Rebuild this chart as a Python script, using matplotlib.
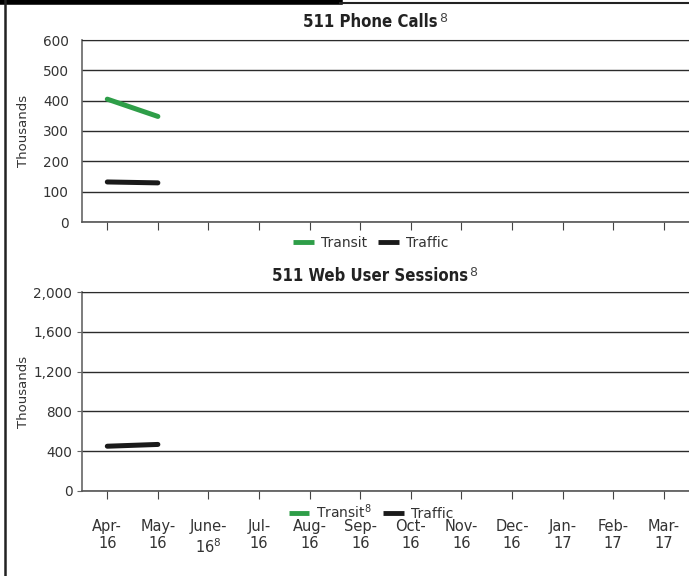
import matplotlib.pyplot as plt
from matplotlib.lines import Line2D

months = ['Apr-\n16', 'May-\n16', 'June-\n16$^{8}$', 'Jul-\n16', 'Aug-\n16', 'Sep-\n16',
          'Oct-\n16', 'Nov-\n16', 'Dec-\n16', 'Jan-\n17', 'Feb-\n17', 'Mar-\n17']

# 511 phone calls (thousands), only Apr/May reported
phone_transit = [405, 348]
phone_traffic = [132, 129]

# 511 web user sessions (thousands)
web_transit = []
web_traffic = [450, 468]

GREEN = '#2e9e48'
BLACK = '#1a1a1a'
GRID = '#2b2b2b'
TXT = '#333333'

fig = plt.figure(figsize=(6.89, 5.76), dpi=100)
W, H = 689.0, 576.0

ax1 = fig.add_axes([82 / W, 1 - 222 / H, 607 / W, 182 / H])
ax2 = fig.add_axes([82 / W, 1 - 491 / H, 607 / W, 199 / H])

x = list(range(len(months)))


def style(ax, ymax, step, fmt, ticklen):
    ax.set_xlim(-0.5, 11.5)
    ax.set_ylim(0, ymax)
    ax.set_yticks(range(0, ymax + 1, step))
    ax.set_yticklabels([fmt.format(v) for v in range(0, ymax + 1, step)])
    ax.set_xticks(x)
    ax.grid(axis='y', color=GRID, linewidth=1.0)
    ax.set_axisbelow(True)
    ax.spines['right'].set_visible(False)
    ax.spines['top'].set_color(GRID)
    ax.spines['left'].set_color('#666666')
    ax.spines['bottom'].set_color('#555555')
    ax.spines['left'].set_linewidth(1.2)
    ax.spines['bottom'].set_linewidth(1.2)
    ax.tick_params(axis='y', length=ticklen, color='#666666', labelsize=9.8,
                   labelcolor=TXT, pad=9.5 if ticklen == 0 else 3.5)
    ax.tick_params(axis='x', length=6, color='#444444', direction='out')
    ax.set_ylabel('Thousands', fontsize=9.5, color=TXT)
    ax.yaxis.set_label_coords(-(82 - 30) / 607, 0.5)


style(ax1, 600, 100, '{:d}', 0)
style(ax2, 2000, 400, '{:,}', 3.5)

ax1.plot(x[:len(phone_transit)], phone_transit, color=GREEN, lw=3.6, solid_capstyle='round', label='Transit')
ax1.plot(x[:len(phone_traffic)], phone_traffic, color=BLACK, lw=3.6, solid_capstyle='round', label='Traffic')
ax1.set_xticklabels([])

ax2.plot(x[:len(web_transit)], web_transit, color=GREEN, lw=3.6, solid_capstyle='round', label='Transit$^{8}$')
ax2.plot(x[:len(web_traffic)], web_traffic, color=BLACK, lw=3.6, solid_capstyle='round', label='Traffic')
ax2.set_xticklabels(months, fontsize=10.5, color=TXT, linespacing=1.2)
ax2.tick_params(axis='x', pad=14)

for ax, yy in [(ax1, -21 / 182), (ax2, -21 / 199)]:
    leg = ax.legend(loc='center', bbox_to_anchor=(0.476, yy), ncol=2, frameon=False,
                    fontsize=10, handlelength=1.5, handletextpad=0.5, columnspacing=0.8,
                    labelcolor=TXT)
    for h in leg.get_lines():
        h.set_linewidth(3.5)
        h.set_solid_capstyle('butt')

for label, yp in [('511 Phone Calls', 22), ('511 Web User Sessions', 276)]:
    t = fig.text(370 / W, 1 - yp / H, label, ha='center', va='center',
                 fontsize=12, fontweight='bold', fontstretch='condensed', color='#222222')
    ax1.annotate('8', xy=(1, 1), xycoords=t, xytext=(1, 1), textcoords='offset points',
                 ha='left', va='top', fontsize=9, color='#444444', annotation_clip=False)

# page frame
fig.add_artist(Line2D([0, 340 / W], [1 - 2 / H, 1 - 2 / H], color='black', lw=4))
fig.add_artist(Line2D([340 / W, 1], [1 - 3 / H, 1 - 3 / H], color='#222222', lw=1.5))
fig.add_artist(Line2D([4.5 / W, 4.5 / W], [0, 1], color='#222222', lw=1.8))

fig.savefig('out.png', dpi=100)
